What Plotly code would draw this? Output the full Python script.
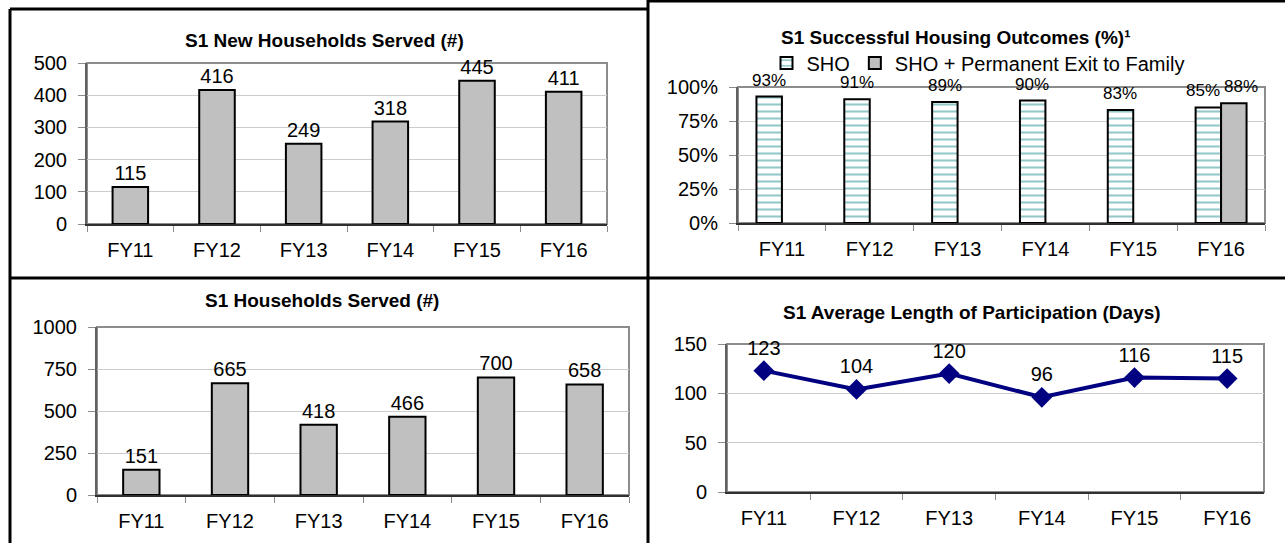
import plotly.graph_objects as go

# ---- data ----
years = ["FY11", "FY12", "FY13", "FY14", "FY15", "FY16"]
new_households = [115, 416, 249, 318, 445, 411]
sho_pct = [0.93, 0.91, 0.89, 0.90, 0.83, 0.85]
sho_family_pct = [None, None, None, None, None, 0.88]
households_served = [151, 665, 418, 466, 700, 658]
avg_length_days = [123, 104, 120, 96, 116, 115]

W, H = 1285, 543


def px_x(v):
    return v / W


def px_y(v):
    return 1 - v / H


TICK_FONT = dict(family="Liberation Sans, Arial, sans-serif", size=20, color="#000000")
LABEL_FONT = dict(family="Liberation Sans, Arial, sans-serif", size=20, color="#000000")
PCT_FONT = dict(family="Liberation Sans, Arial, sans-serif", size=17, color="#000000")
TITLE_FONT = dict(family="Liberation Sans, Arial, sans-serif",
                  size=19, color="#000000", weight="bold")
BAR_GRAY = "#c0c0c0"
GRID = "#cccccc"
FRAME = "#8c8c8c"

fig = go.Figure()

# top-left: new households served
fig.add_trace(go.Bar(
    x=years, y=new_households, xaxis="x", yaxis="y",
    marker=dict(color=BAR_GRAY, line=dict(color="#000000", width=2)),
    text=[str(v) for v in new_households], textposition="outside",
    textfont=LABEL_FONT, constraintext="none",
    cliponaxis=False, showlegend=False, width=0.41,
))

# top-right: successful housing outcomes (labels added as annotations below)
fig.add_trace(go.Bar(
    x=years, y=sho_pct, xaxis="x2", yaxis="y2", name="SHO",
    marker=dict(color="#ffffff", line=dict(color="#000000", width=2),
                pattern=dict(shape="-", fgcolor="#2a9292", bgcolor="#ffffff",
                             size=7, solidity=0.3)),
    legend="legend",
))
fig.add_trace(go.Bar(
    x=years, y=sho_family_pct, xaxis="x2", yaxis="y2",
    name="SHO + Permanent Exit to Family",
    marker=dict(color=BAR_GRAY, line=dict(color="#000000", width=2)),
    legend="legend",
))

# bottom-left: households served
fig.add_trace(go.Bar(
    x=years, y=households_served, xaxis="x3", yaxis="y3",
    marker=dict(color=BAR_GRAY, line=dict(color="#000000", width=2)),
    text=[str(v) for v in households_served], textposition="outside",
    textfont=LABEL_FONT, constraintext="none",
    cliponaxis=False, showlegend=False, width=0.41,
))

# bottom-right: average length of participation
fig.add_trace(go.Scatter(
    x=years, y=avg_length_days, xaxis="x4", yaxis="y4", mode="lines+markers+text",
    line=dict(color="#000080", width=4),
    marker=dict(symbol="diamond", size=16, color="#000080"),
    text=[str(v) for v in avg_length_days], textposition="top center",
    textfont=LABEL_FONT, cliponaxis=False, showlegend=False,
))

# plot-area placement in pixels: (left, right, top, bottom)
areas = {
    "": (87, 607, 63, 224),
    "2": (738, 1265, 87, 223),
    "3": (97, 629, 327, 495),
    "4": (727, 1264, 344, 492),
}
yranges = {"": (0, 500, 100), "2": (0, 1.0, 0.25), "3": (0, 1000, 250), "4": (0, 150, 50)}

for k, (l, r, t, b) in areas.items():
    y0, y1, dt = yranges[k]
    fig.layout["xaxis" + k] = dict(
        domain=[px_x(l), px_x(r)], anchor="y" + k, type="category",
        tickfont=TICK_FONT, ticks="outside", tickson="boundaries", ticklen=6,
        tickcolor=FRAME, tickwidth=1, showline=True, linecolor="#303030", linewidth=2,
        showgrid=False, fixedrange=True, ticklabelstandoff=7,
    )
    fig.layout["yaxis" + k] = dict(
        domain=[px_y(b), px_y(t)], anchor="x" + k, range=[y0, y1], dtick=dt,
        tickfont=TICK_FONT, ticks="outside", ticklen=7, tickcolor=FRAME,
        showline=True, linecolor="#606060", linewidth=2,
        showgrid=True, gridcolor=GRID, gridwidth=1, zeroline=False,
        fixedrange=True, ticklabelstandoff=7,
        tickformat=".0%" if k == "2" else "d",
    )
    # gray frame around the plot area
    fig.add_shape(type="rect", xref=f"x{k} domain", yref=f"y{k} domain",
                  x0=0, x1=1, y0=0, y1=1, line=dict(color=FRAME, width=2),
                  layer="below")

fig.update_layout(
    width=W, height=H, margin=dict(l=0, r=0, t=0, b=0, autoexpand=False),
    paper_bgcolor="#ffffff", plot_bgcolor="#ffffff",
    barmode="group", bargap=0.42, bargroupgap=0,
    legend=dict(orientation="h", x=px_x(978), y=px_y(63), xanchor="center", yanchor="middle",
                font=dict(family="Liberation Sans, Arial, sans-serif", size=20, color="#000"),
                bgcolor="rgba(0,0,0,0)", itemclick=False, itemdoubleclick=False),
)

# percentage labels above the grouped bars; each bar sits half a bar-width off the
# category centre, and the last pair is spread apart a little so the labels don't collide
n = len(years)
for i, (yr, v) in enumerate(zip(years, sho_pct)):
    shift = -13 if i < n - 1 else -18
    fig.add_annotation(x=yr, y=v, xref="x2", yref="y2", text=f"{round(v * 100)}%",
                       showarrow=False, yanchor="bottom", xanchor="center",
                       xshift=shift, yshift=5, font=PCT_FONT)
for i, (yr, v) in enumerate(zip(years, sho_family_pct)):
    if v is None:
        continue
    shift = 13 if i < n - 1 else 20
    fig.add_annotation(x=yr, y=v, xref="x2", yref="y2", text=f"{round(v * 100)}%",
                       showarrow=False, yanchor="bottom", xanchor="center",
                       xshift=shift, yshift=5, font=PCT_FONT)

# chart titles
titles = [
    ("S1 New Households Served (#)", 324, 40),
    ("S1 Successful Housing Outcomes (%)¹", 955, 37),
    ("S1 Households Served (#)", 322, 300),
    ("S1 Average Length of Participation (Days)", 972, 312),
]
for txt, cx, cy in titles:
    fig.add_annotation(text=txt, x=px_x(cx), y=px_y(cy), xref="paper", yref="paper",
                       showarrow=False, xanchor="center", yanchor="middle", font=TITLE_FONT)

# panel borders
borders = [
    (10, 9, 648, 9),
    (648, 1, 1285, 1),
    (10, 9, 10, 543),
    (648, 0, 648, 543),
    (10, 278, 1285, 278),
]
for x0, y0, x1, y1 in borders:
    fig.add_shape(type="line", xref="paper", yref="paper",
                  x0=px_x(x0), y0=px_y(y0), x1=px_x(x1), y1=px_y(y1),
                  line=dict(color="#000000", width=3))

fig.write_html("out.html")
